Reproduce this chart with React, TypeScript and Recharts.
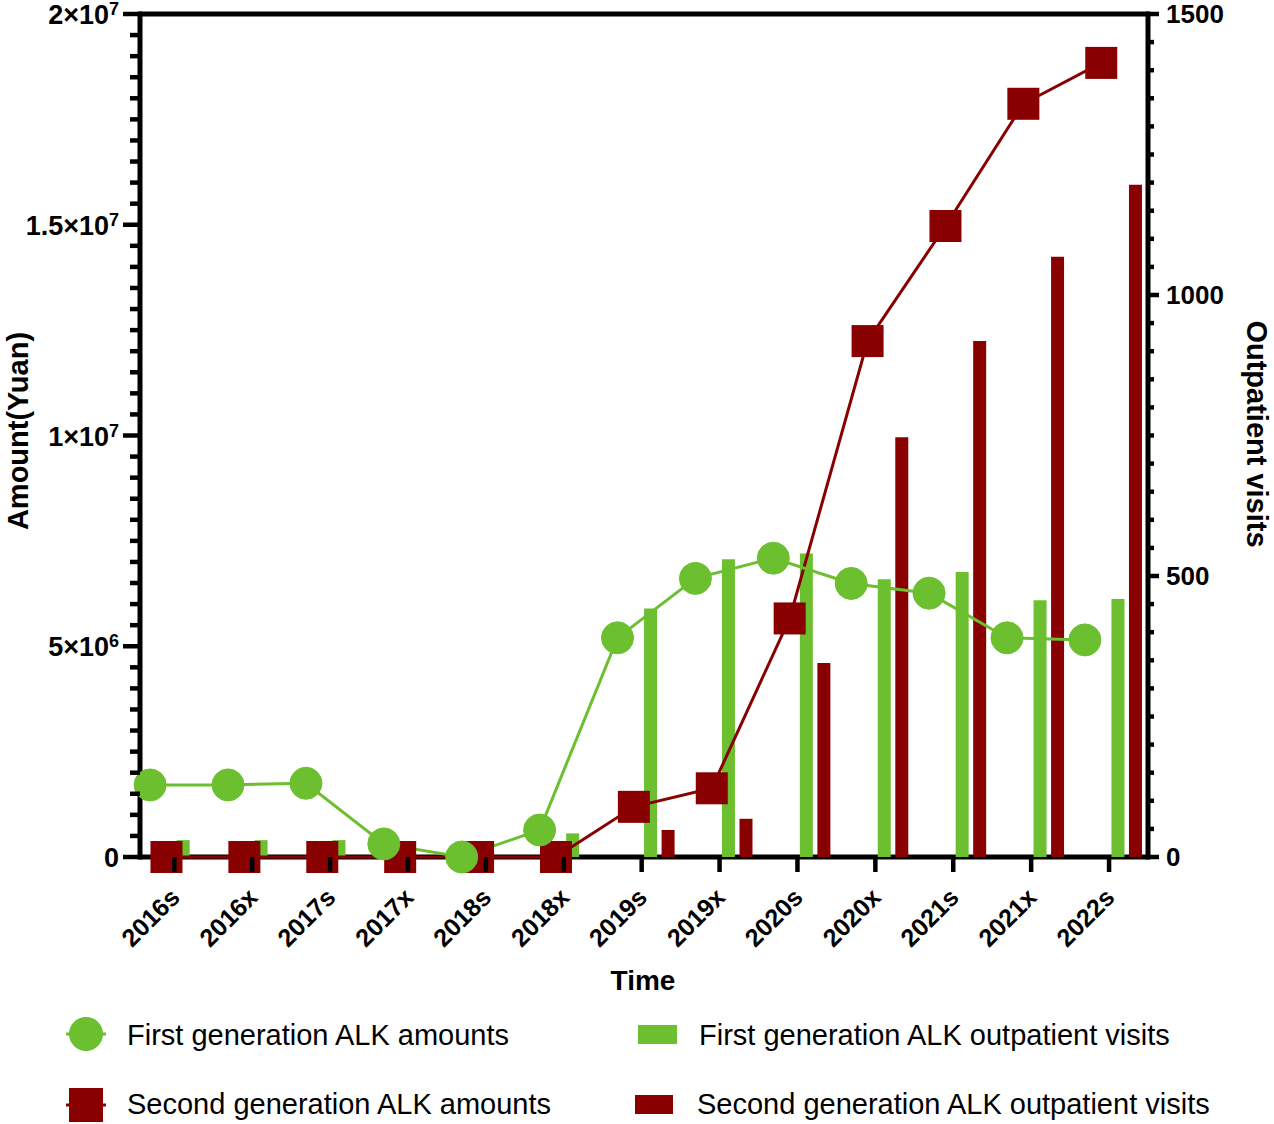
import React from 'react';
import { ComposedChart, Line, Bar, XAxis, YAxis, ReferenceLine, Legend, CartesianGrid } from 'recharts';

const GREEN = '#6cbf2f';
const RED = '#880000';
const FONT = "'Liberation Sans', Arial, Helvetica, sans-serif";

// categories
const periods = ['2016s', '2016x', '2017s', '2017x', '2018s', '2018x', '2019s', '2019x', '2020s', '2020x', '2021s', '2021x', '2022s'];

// series values
const firstAmounts = [1710000, 1710000, 1750000, 310000, 0, 640000, 5200000, 6610000, 7090000, 6490000, 6260000, 5200000, 5150000];
const secondAmounts = [0, 0, 0, 0, 0, 0, 1190000, 1630000, 5660000, 12240000, 14970000, 17870000, 18840000];
const firstVisits = [30, 30, 30, 0, 0, 42, 442, 530, 540, 494, 507, 457, 459];
const secondVisits = [0, 0, 0, 0, 0, 0, 48, 68, 345, 747, 918, 1068, 1196];

// tick labels
const leftMajorTicks = [0, 5000000, 10000000, 15000000, 20000000];
const leftTickMantissa = ['0', '5', '1', '1.5', '2'];
const leftTickExponent = ['', '6', '7', '7', '7'];
const rightMajorTicks = [0, 500, 1000, 1500];
const rightTickLabels = ['0', '500', '1000', '1500'];
const LEFT_MAX = 20000000;
const LEFT_MINOR_STEP = 500000;
const RIGHT_MAX = 1500;
const RIGHT_MINOR_STEP = 50;

const legendLabels = [
  'First generation ALK amounts',
  'Second generation ALK amounts',
  'First generation ALK outpatient visits',
  'Second generation ALK outpatient visits',
];

const leftTicks = Array.from({ length: LEFT_MAX / LEFT_MINOR_STEP + 1 }, (_, i) => i * LEFT_MINOR_STEP);
const rightTicks = Array.from({ length: RIGHT_MAX / RIGHT_MINOR_STEP + 1 }, (_, i) => i * RIGHT_MINOR_STEP);
const idxTicks = periods.map((_, i) => i);

const data = periods.map((period, idx) => ({
  period,
  idx,
  firstAmount: firstAmounts[idx],
  secondAmount: secondAmounts[idx],
  firstVisit: firstVisits[idx],
  secondVisit: secondVisits[idx],
}));

// layout of the grouped slots inside each category
const MAIN_DOMAIN: [number, number] = [-0.44, 12.5];
const shifted = (o: number): [number, number] => [MAIN_DOMAIN[0] - o, MAIN_DOMAIN[1] - o];
const OFF_GREEN_LINE = -0.31;
const OFF_RED_LINE = -0.1;
const OFF_GREEN_BAR = 0.12;
const OFF_RED_BAR = 0.345;

const LeftTick = (props: any) => {
  const { x, y, payload } = props;
  const k = leftMajorTicks.indexOf(payload.value);
  const major = k >= 0;
  return (
    <g>
      <line x1={x} x2={x - (major ? 17 : 10)} y1={y} y2={y} stroke="#000" strokeWidth={4.5} />
      {major && (
        <text x={x - 21} y={y + 10} textAnchor="end" fontFamily={FONT} fontWeight="bold" fontSize={27} fill="#000">
          <tspan>{leftTickMantissa[k] + (leftTickExponent[k] ? '×10' : '')}</tspan>
          {leftTickExponent[k] ? (
            <tspan dy={-9} fontSize={18}>
              {leftTickExponent[k]}
            </tspan>
          ) : null}
        </text>
      )}
    </g>
  );
};

const RightTick = (props: any) => {
  const { x, y, payload } = props;
  const k = rightMajorTicks.indexOf(payload.value);
  const major = k >= 0;
  return (
    <g>
      <line x1={x} x2={x + (major ? 11 : 6)} y1={y} y2={y} stroke="#000" strokeWidth={4.5} />
      {major && (
        <text x={x + 18} y={y + 9} textAnchor="start" fontFamily={FONT} fontWeight="bold" fontSize={26} fill="#000">
          {rightTickLabels[k]}
        </text>
      )}
    </g>
  );
};

const XTick = (props: any) => {
  const { x, y, payload } = props;
  const tx = x + 7;
  const ty = y + 42;
  return (
    <g>
      <line x1={x} x2={x} y1={y} y2={y + 15} stroke="#000" strokeWidth={4.5} />
      <text
        x={tx}
        y={ty}
        transform={`rotate(-45 ${tx} ${ty})`}
        textAnchor="end"
        fontFamily={FONT}
        fontWeight="bold"
        fontSize={25}
        fill="#000"
      >
        {periods[payload.value]}
      </text>
    </g>
  );
};

const SquareDot = (props: any) => {
  const { cx, cy, index } = props;
  if (cx == null || cy == null) return <g key={`sq-${index}`} />;
  return <rect key={`sq-${index}`} x={cx - 16} y={cy - 16} width={32} height={32} fill={RED} />;
};

const renderLegend = () => (
  <svg width={1274} height={124} style={{ display: 'block' }}>
    <g>
      <line x1={66} x2={106} y1={34} y2={34} stroke={GREEN} strokeWidth={3} />
      <circle cx={86} cy={34} r={17} fill={GREEN} />
      <text x={127} y={45} fontFamily={FONT} fontSize={29} fill="#000">
        {legendLabels[0]}
      </text>
    </g>
    <g>
      <line x1={66} x2={106} y1={105} y2={105} stroke={RED} strokeWidth={3} />
      <rect x={69} y={88} width={34} height={34} fill={RED} />
      <text x={127} y={114} fontFamily={FONT} fontSize={29} fill="#000">
        {legendLabels[1]}
      </text>
    </g>
    <g>
      <rect x={638} y={25} width={39} height={19} fill={GREEN} />
      <text x={699} y={45} fontFamily={FONT} fontSize={29} fill="#000">
        {legendLabels[2]}
      </text>
    </g>
    <g>
      <rect x={635} y={95} width={38} height={19} fill={RED} />
      <text x={697} y={114} fontFamily={FONT} fontSize={29} fill="#000">
        {legendLabels[3]}
      </text>
    </g>
  </svg>
);

const axisLineStyle = { stroke: '#000', strokeWidth: 5, strokeLinecap: 'square' as const };

export default function App() {
  return (
    <div style={{ position: 'absolute', left: 0, top: 0, width: 1274, height: 1124, background: '#fff' }}>
      <ComposedChart width={1274} height={1124} data={data} margin={{ top: 14, right: 66, bottom: 127, left: 80 }}>
        <CartesianGrid
          xAxisId="main"
          yAxisId="left"
          vertical={false}
          horizontalValues={[0]}
          stroke="#000"
          strokeWidth={5}
          strokeDasharray=""
          horizontal={{ strokeLinecap: 'square' }}
        />
        <XAxis
          xAxisId="main"
          dataKey="idx"
          type="number"
          domain={MAIN_DOMAIN}
          ticks={idxTicks}
          interval={0}
          height={140}
          tickSize={0}
          tickMargin={0}
          tickLine={false}
          axisLine={false}
          tick={<XTick />}
          label={() => (
            <text x={643} y={990} textAnchor="middle" fontFamily={FONT} fontWeight="bold" fontSize={28} fill="#000">
              Time
            </text>
          )}
        />
        <XAxis xAxisId="gl" dataKey="idx" type="number" domain={shifted(OFF_GREEN_LINE)} ticks={idxTicks} height={0} hide />
        <XAxis xAxisId="rl" dataKey="idx" type="number" domain={shifted(OFF_RED_LINE)} ticks={idxTicks} height={0} hide />
        <XAxis xAxisId="gb" dataKey="idx" type="number" domain={shifted(OFF_GREEN_BAR)} ticks={idxTicks} height={0} hide />
        <XAxis xAxisId="rb" dataKey="idx" type="number" domain={shifted(OFF_RED_BAR)} ticks={idxTicks} height={0} hide />
        <YAxis
          yAxisId="left"
          orientation="left"
          width={60}
          domain={[0, LEFT_MAX]}
          ticks={leftTicks}
          interval={0}
          tickSize={0}
          tickMargin={0}
          tickLine={false}
          axisLine={axisLineStyle}
          tick={<LeftTick />}
          label={() => (
            <text
              x={28}
              y={431}
              transform="rotate(-90 28 431)"
              textAnchor="middle"
              fontFamily={FONT}
              fontWeight="bold"
              fontSize={29}
              fill="#000"
            >
              Amount(Yuan)
            </text>
          )}
        />
        <YAxis
          yAxisId="right"
          orientation="right"
          width={60}
          domain={[0, RIGHT_MAX]}
          ticks={rightTicks}
          interval={0}
          tickSize={0}
          tickMargin={0}
          tickLine={false}
          axisLine={axisLineStyle}
          tick={<RightTick />}
          label={() => (
            <text
              x={1247}
              y={434}
              transform="rotate(90 1247 434)"
              textAnchor="middle"
              fontFamily={FONT}
              fontWeight="bold"
              fontSize={29}
              fill="#000"
            >
              Outpatient visits
            </text>
          )}
        />
        <ReferenceLine xAxisId="main" yAxisId="left" y={LEFT_MAX} stroke="#000" strokeWidth={5} />
        <Bar xAxisId="gb" yAxisId="right" dataKey="firstVisit" fill={GREEN} barSize={13} isAnimationActive={false} />
        <Bar xAxisId="rb" yAxisId="right" dataKey="secondVisit" fill={RED} barSize={13} isAnimationActive={false} />
        <Line
          xAxisId="rl"
          yAxisId="left"
          dataKey="secondAmount"
          stroke={RED}
          strokeWidth={3}
          dot={<SquareDot />}
          activeDot={false}
          isAnimationActive={false}
        />
        <Line
          xAxisId="gl"
          yAxisId="left"
          dataKey="firstAmount"
          stroke={GREEN}
          strokeWidth={3}
          dot={{ r: 16, fill: GREEN, stroke: GREEN, strokeWidth: 1 }}
          activeDot={false}
          isAnimationActive={false}
        />
        <Legend
          layout="horizontal"
          verticalAlign="middle"
          align="center"
          wrapperStyle={{ top: 1000, left: 0, width: 1274, height: 124 }}
          content={renderLegend}
        />
      </ComposedChart>
    </div>
  );
}
